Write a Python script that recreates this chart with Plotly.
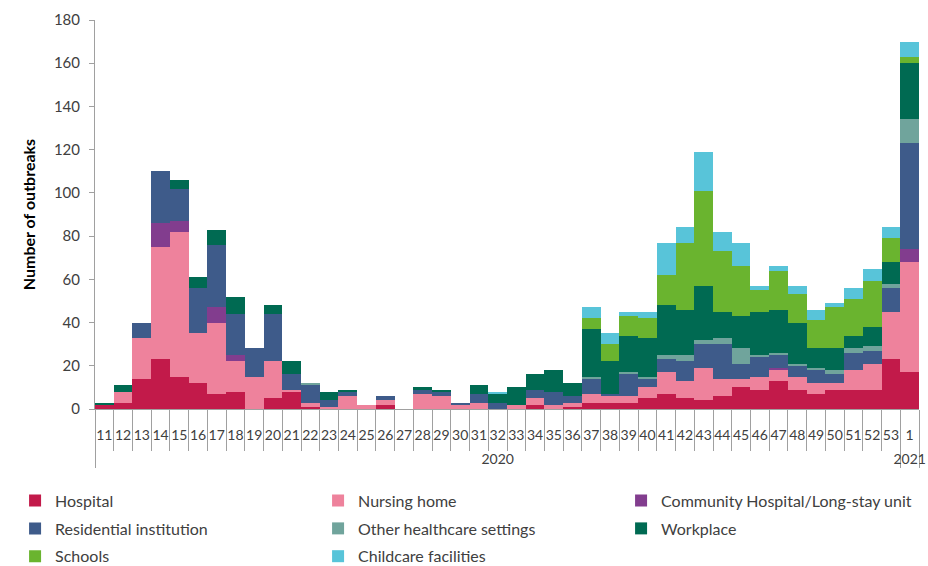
import plotly.graph_objects as go

weeks = [str(w) for w in range(11, 54)] + ["1"]
years = ["2020"] * 43 + ["2021"]

# week:            11 12 13  14  15  16  17  18 19  20 21 22 23 24 25 26 27 28 29 30 31 32 33 34 35 36  37  38  39  40  41  42  43  44  45  46  47  48  49  50  51  52  53   1
hospital =        [2, 3, 14, 23, 15, 12,  7,  8, 0,  5, 8, 1, 0, 0, 0, 2, 0, 0, 0, 0, 0, 0, 0, 2, 0, 1,  3,  3,  3,  5,  7,  5,  4,  6, 10,  9, 13,  9,  7,  9,  9,  9, 23, 17]
nursing =         [0, 5, 19, 52, 67, 23, 33, 14, 15, 17, 1, 2, 1, 6, 2, 2, 0, 7, 6, 2, 3, 0, 2, 3, 2, 2,  4,  3,  3,  5, 10,  8, 15,  8,  4,  6,  5,  6,  5,  3,  9, 12, 22, 51]
community =       [0, 0,  0, 11,  5,  0,  7,  3, 0,  0, 0, 0, 0, 0, 0, 0, 0, 0, 0, 0, 0, 0, 0, 0, 0, 0,  0,  0,  0,  0,  0,  0,  0,  0,  0,  0,  1,  0,  0,  0,  0,  0,  0,  6]
residential =     [0, 0,  7, 24, 15, 21, 29, 19, 13, 22, 7, 8, 3, 2, 0, 2, 0, 2, 2, 1, 4, 3, 0, 4, 6, 3,  7,  1, 10,  4,  6,  9, 11, 16,  7,  9,  6,  5,  6,  4,  8,  6, 11, 49]
other_health =    [0, 0,  0,  0,  0,  0,  0,  0, 0,  0, 0, 1, 0, 0, 0, 0, 0, 0, 0, 0, 0, 0, 0, 0, 0, 0,  1,  0,  1,  1,  2,  3,  2,  3,  7,  1,  1,  1,  1,  2,  2,  2,  2, 11]
workplace =       [1, 3,  0,  0,  4,  5,  7,  8, 0,  4, 6, 0, 4, 1, 0, 0, 0, 1, 1, 0, 4, 4, 8, 7,10, 6, 22, 15, 17, 18, 23, 21, 25, 12, 15, 20, 20, 19,  9, 10,  6,  9, 10, 26]
schools =         [0, 0,  0,  0,  0,  0,  0,  0, 0,  0, 0, 0, 0, 0, 0, 0, 0, 0, 0, 0, 0, 0, 0, 0, 0, 0,  5,  8,  9,  9, 14, 31, 44, 28, 23, 10, 18, 13, 13, 19, 17, 21, 11,  3]
childcare =       [0, 0,  0,  0,  0,  0,  0,  0, 0,  0, 0, 0, 0, 0, 0, 0, 0, 0, 0, 0, 0, 1, 0, 0, 0, 0,  5,  5,  2,  3, 15,  7, 18,  9, 11,  2,  2,  4,  5,  2,  5,  6,  5,  7]

series = [
    ("Hospital", hospital, "#C21A4A"),
    ("Nursing home", nursing, "#EE829C"),
    ("Community Hospital/Long-stay unit", community, "#823D8E"),
    ("Residential institution", residential, "#3E5B8A"),
    ("Other healthcare settings", other_health, "#70A49C"),
    ("Workplace", workplace, "#006A52"),
    ("Schools", schools, "#6AB42F"),
    ("Childcare facilities", childcare, "#58C4D9"),
]

# year labels sit one line lower, below the week row (as in the source chart)
year_labels = ["<br>" + y for y in years]

fig = go.Figure()
for name, vals, color in series:
    fig.add_trace(go.Bar(
        x=[year_labels, weeks], y=vals, name=name, legendgroup=name,
        marker=dict(color=color, line=dict(width=0)),
    ))

font_family = "Lato"
fig.update_layout(
    width=928, height=566,
    barmode="stack", bargap=0,
    plot_bgcolor="white", paper_bgcolor="white",
    margin=dict(l=95, r=9, t=20, b=157, autoexpand=False),
    font=dict(family=font_family, size=15, color="#404040"),
    legend=dict(
        orientation="h", x=-0.097, y=-0.192, xanchor="left", yanchor="top",
        entrywidth=258, entrywidthmode="pixels", traceorder="grouped",
        tracegroupgap=4,
        font=dict(size=16, color="#404040"), itemwidth=30,
    ),
    showlegend=True,
)
fig.update_yaxes(
    range=[0, 180], dtick=20, showgrid=False, zeroline=False,
    showline=True, linecolor="#A0A0A0", ticks="outside", ticklen=5, tickcolor="#A0A0A0",
    ticklabelstandoff=6,
    tickfont=dict(size=15, color="#404040"),
    title=dict(text="<b>Number of outbreaks</b>", font=dict(size=16, color="#000000"), standoff=14),
)
fig.update_xaxes(
    type="multicategory", showgrid=False, showline=True, linecolor="#A0A0A0",
    ticks="outside", tickson="boundaries", ticklen=41, tickcolor="#A0A0A0",
    tickangle=0, ticklabelstandoff=13,
    showdividers=True, dividercolor="#A0A0A0", dividerwidth=1,
    tickfont=dict(size=14, color="#404040"),
)

fig.write_html("out.html", config={"displayModeBar": False},
               post_script="document.body.style.margin='0';")
